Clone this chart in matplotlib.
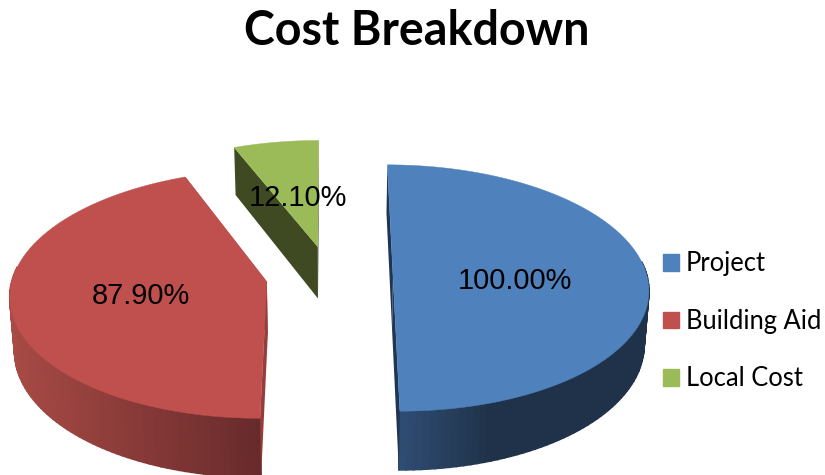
import numpy as np
import matplotlib
matplotlib.use("Agg")
import matplotlib.pyplot as plt
from matplotlib.colors import to_rgb
from matplotlib.patches import Patch

# datos del grafico
categorias = ["Project", "Building Aid", "Local Cost"]
valores = [100.0, 87.9, 12.1]
colores = ["#4f81bd", "#c0504d", "#9bbb59"]
color_corte = ["#1f3552", "#953d3b", "#3f4a22"]
# degradado de la pared exterior (x en pixeles -> color)
pared_x = [[400, 490, 650], [10, 262], [230, 320]]
pared_c = [["#2f4d73", "#1f3249", "#1f3249"], ["#a84a45", "#672a2b"], ["#3f4a22", "#3f4a22"]]

# parametros de la vista 3D
x0, y0 = 329.5, 276
rx, ry = 254, 122
k = 0.0975
alto = 53
encoge = 0.985
explode = 0.25
N = 120


def proyecta(u, v, z=0.0):
    s = 1 / (1 + k * v)
    esc = 1 - (1 - encoge) * z
    return x0 + esc * s * rx * u, y0 - ry * v * s + alto * s * z


fig = plt.figure(figsize=(8.25, 4.75), dpi=100)
ax = fig.add_axes([0, 0, 1, 1])
ax.set_xlim(0, 825)
ax.set_ylim(475, 0)
ax.axis("off")

# angulos de cada porcion, sentido horario desde arriba
fracs = np.array(valores) / sum(valores)
limites = 90 - 360 * np.concatenate([[0], np.cumsum(fracs)])

# primero la porcion de atras (verde)
for i in [2, 1, 0]:
    t1, t2 = np.radians(limites[i]), np.radians(limites[i + 1])
    medio = (t1 + t2) / 2
    ou, ov = explode * np.cos(medio), explode * np.sin(medio)
    t = np.linspace(t1, t2, N)
    u = ou + np.cos(t)
    v = ov + np.sin(t)

    # pared exterior en tiras con degradado, solo la parte de delante
    xa, ya = proyecta(u, v)
    xb, yb = proyecta(u, v, 1)
    c_ini = np.array([to_rgb(c) for c in pared_c[i]])
    for j in range(N - 1):
        if np.sin(t[j]) > 0.12:
            continue
        xm = (xa[j] + xa[j + 1]) / 2
        col = [np.interp(xm, pared_x[i], c_ini[:, n]) for n in range(3)]
        ax.fill([xa[j], xa[j + 1], xb[j + 1], xb[j]],
                [ya[j], ya[j + 1], yb[j + 1], yb[j]],
                color=col, lw=1.2, zorder=i * -10 + 1)

    # caras del corte
    for fin in [0, -1]:
        xc = [proyecta(ou, ov)[0], xa[fin], xb[fin], proyecta(ou, ov, 1)[0]]
        yc = [proyecta(ou, ov)[1], ya[fin], yb[fin], proyecta(ou, ov, 1)[1]]
        ax.fill(xc, yc, color=color_corte[i], lw=0, zorder=i * -10 + 2)

    # cara superior
    xt, yt = proyecta(np.append(u, ou), np.append(v, ov))
    ax.fill(xt, yt, color=colores[i], lw=0.3, zorder=i * -10 + 3)

# etiquetas de porcentaje
pos_etiquetas = [(515, 281), (141, 296), (298, 198)]
for val, (xe, ye) in zip(valores, pos_etiquetas):
    ax.text(xe, ye, f"{val:.2f}%", family="Liberation Sans", fontsize=20.9,
            color="black", ha="center", va="center", zorder=10)

ax.text(417, 31, "Cost Breakdown", family="Lato", weight="bold", fontsize=33.6,
        color="black", ha="center", va="center")

manijas = [Patch(color=c) for c in colores]
ax.legend(manijas, categorias, loc="center left", bbox_to_anchor=(0.804, 0.3235),
          frameon=False, prop={"family": "Lato", "size": 18.4},
          handlelength=0.62, handleheight=0.62, handletextpad=0.27,
          labelspacing=1.27, borderpad=0, borderaxespad=0)

plt.savefig("out.png", dpi=100)
